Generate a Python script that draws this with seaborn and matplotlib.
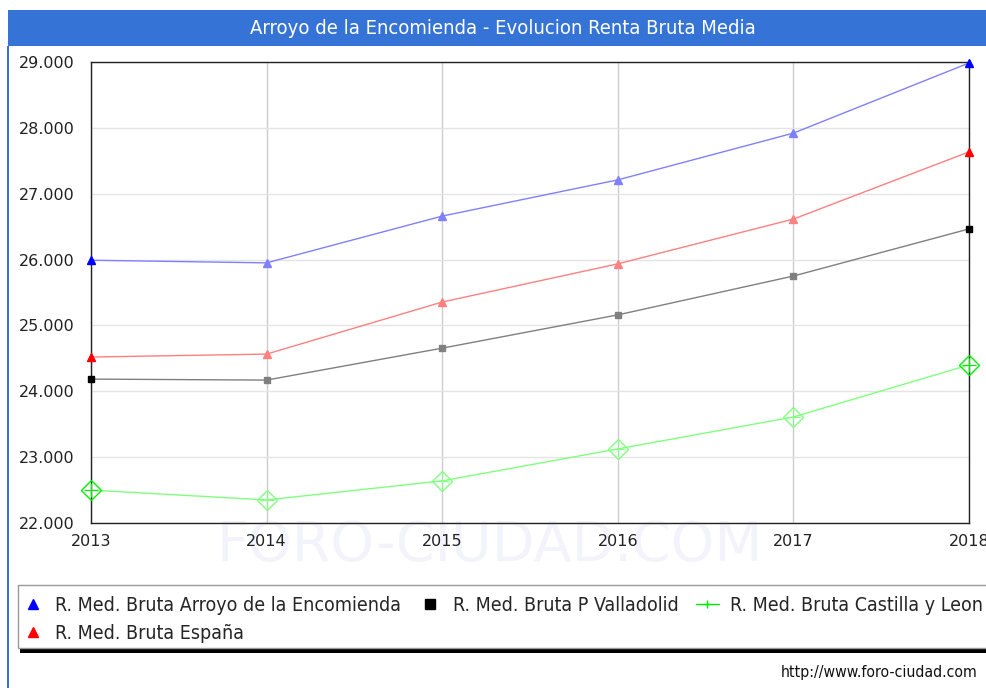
import matplotlib

matplotlib.use("Agg")

import matplotlib.pyplot as plt
import pandas as pd
import seaborn as sns
from matplotlib.font_manager import FontProperties
from matplotlib.lines import Line2D
from matplotlib.patches import Rectangle
from matplotlib.ticker import FuncFormatter

years = [2013, 2014, 2015, 2016, 2017, 2018]
arroyo = [25990, 25950, 26660, 27210, 27920, 28985]
valladolid = [24185, 24170, 24655, 25160, 25750, 26465]
castilla_leon = [22500, 22350, 22640, 23125, 23610, 24400]
espana = [24520, 24565, 25355, 25935, 26615, 27635]

series_names = [
    "R. Med. Bruta Arroyo de la Encomienda",
    "R. Med. Bruta P Valladolid",
    "R. Med. Bruta Castilla y Leon",
    "R. Med. Bruta España",
]
series_values = [arroyo, valladolid, castilla_leon, espana]
line_colors = ["#8080ff", "#808080", "#80ff80", "#ff8080"]
end_colors = ["#0000ff", "#000000", "#00ee00", "#ff0000"]
markers = ["^", "s", "D", "^"]
marker_sizes = [6, 4.5, 10, 6]

df = pd.DataFrame(
    [(name, y, v) for name, vals in zip(series_names, series_values) for y, v in zip(years, vals)],
    columns=["serie", "year", "value"],
)

sns.set_theme(style="white")
plt.rcParams["font.family"] = ["DejaVu Sans"]
narrow = dict(family=["DejaVu Sans"], stretch="condensed")

W, H = 986, 688
fig = plt.figure(figsize=(W / 100, H / 100), dpi=100)
ax = fig.add_axes([91 / W, 1 - 523 / H, 878 / W, 461 / H])

sns.lineplot(
    data=df, x="year", y="value", hue="serie", hue_order=series_names,
    palette=dict(zip(series_names, line_colors)), linewidth=1.0, legend=False, ax=ax, zorder=3,
)

for vals, lc, ec, m, ms in zip(series_values, line_colors, end_colors, markers, marker_sizes):
    hollow = m == "D"
    ax.plot(years[1:-1], vals[1:-1], linestyle="none", marker=m, markersize=ms,
            markerfacecolor="none" if hollow else lc, markeredgecolor=lc,
            markeredgewidth=1.0, zorder=4)
    ax.plot([years[0], years[-1]], [vals[0], vals[-1]], linestyle="none", marker=m, markersize=ms,
            markerfacecolor="none" if hollow else ec, markeredgecolor=ec,
            markeredgewidth=1.0, zorder=5, clip_on=False)
    if hollow:
        ax.plot(years[1:-1], vals[1:-1], linestyle="none", marker="+", markersize=ms,
                color=lc, markeredgewidth=0.8, zorder=4)
        ax.plot([years[0], years[-1]], [vals[0], vals[-1]], linestyle="none", marker="+",
                markersize=ms, color=ec, markeredgewidth=0.8, zorder=5, clip_on=False)

ax.set_xlim(2013, 2018)
ax.set_ylim(22000, 29000)
ax.set_xticks(years)
ax.set_yticks(range(22000, 29001, 1000))
ax.yaxis.set_major_formatter(FuncFormatter(lambda v, _: f"{int(v):,}".replace(",", ".")))
ax.set_xlabel("")
ax.set_ylabel("")
ax.grid(axis="x", color="#cccccc", linewidth=1.0)
ax.grid(axis="y", color="#e4e4e4", linewidth=1.0)
for side in ax.spines.values():
    side.set_visible(True)
    side.set_color("#222222")
    side.set_linewidth(1.0)
ax.tick_params(axis="both", labelsize=11.5, colors="#222222", length=0)
ax.tick_params(axis="x", pad=8)
ax.tick_params(axis="y", pad=12)

# watermark, drawn underneath the axes
fig.text(490 / W, 1 - 546 / H, "FORO-CIUDAD.COM", fontsize=40, color="#f3f3fc",
         ha="center", va="center", zorder=-1)
ax.patch.set_alpha(0)

# title bar and left border
fig.patches.append(Rectangle((8 / W, 1 - 46 / H), 1, 36 / H, transform=fig.transFigure,
                             facecolor="#3673d6", edgecolor="none", zorder=0))
fig.patches.append(Rectangle((7 / W, 0), 1.5 / W, 1 - 46 / H, transform=fig.transFigure,
                             facecolor="#3673d6", edgecolor="none", zorder=0))
fig.text(503 / W, 1 - 28 / H, "Arroyo de la Encomienda - Evolucion Renta Bruta Media",
         color="white", fontsize=14.5, ha="center", va="center", **narrow)

# legend box with shadow
fig.patches.append(Rectangle((20 / W, 1 - 653 / H), 1, 5 / H, transform=fig.transFigure,
                             facecolor="black", edgecolor="none", zorder=1))
fig.patches.append(Rectangle((18 / W, 1 - 648 / H), 1, 63 / H, transform=fig.transFigure,
                             facecolor="white", edgecolor="#999999", linewidth=1.0, zorder=2))

handles = []
for ec, m in zip(end_colors, markers):
    if m == "D":
        handles.append(Line2D([], [], color=ec, linewidth=1.0, marker="+", markersize=6))
    else:
        handles.append(Line2D([], [], color=ec, linestyle="none", marker=m, markersize=7))
order = [0, 3, 1, 2]
leg = fig.legend(
    [handles[i] for i in order], [series_names[i] for i in order],
    loc="upper left", bbox_to_anchor=(21 / W, 1 - 596 / H), ncol=3, frameon=False,
    handlelength=1.2, handletextpad=0.55, columnspacing=0.9, labelspacing=0.45,
    borderaxespad=0, borderpad=0, prop=FontProperties(size=14, **narrow),
)
leg.set_zorder(3)

fig.text(977 / W, 1 - 672 / H, "http://www.foro-ciudad.com", fontsize=11.3, ha="right", va="center",
         color="#111111", **narrow)

fig.savefig("out.png", dpi=100, facecolor="white")
